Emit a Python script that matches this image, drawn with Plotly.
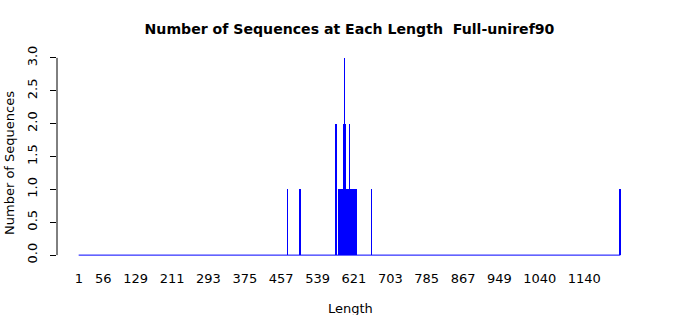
import numpy as np
import plotly.graph_objects as go

# ---- data ----
lengths = [471, 499, 581, 586, 588, 590, 591, 593, 594, 595, 596, 597, 598, 599,
           600, 601, 602, 604, 605, 606, 607, 608, 609, 610, 611, 612, 613, 614,
           615, 617, 618, 619, 620, 622, 626, 661, 1221]
counts = [1, 1, 2, 1, 1, 1, 1, 1, 1, 1, 1, 1, 2, 2,
          3, 2, 2, 1, 1, 1, 1, 1, 1, 1, 2, 1, 1, 1,
          1, 1, 1, 1, 1, 1, 1, 1, 1]
min_length = 1
max_length = 1221
x_tick_labels = [1, 56, 129, 211, 293, 375, 457, 539, 621, 703, 785, 867, 949, 1040, 1140]
y_tick_vals = [0.0, 0.5, 1.0, 1.5, 2.0, 2.5, 3.0]

title = "Number of Sequences at Each Length  Full-uniref90"
x_title = "Length"
y_title = "Number of Sequences"

# ---- geometry (pixels) ----
W, H = 700, 315
L, R, T, B = 57, 58.4, 50, 52
plot_w = W - L - R
plot_h = H - T - B

BLUE = "#0000FF"
FONT = "DejaVu Sans"

span = (max_length + 0.5) - (min_length - 0.5)
xr = [min_length - 0.5 - 0.04 * span, max_length + 0.5 + 0.04 * span]
ymax = max(y_tick_vals)
yr = [-0.04 * ymax, ymax * 1.04]

fig = go.Figure()
# baseline drawn by zero-height bars in original
fig.add_trace(go.Scatter(
    x=[min_length - 0.5, max_length + 0.5], y=[0, 0], mode="lines",
    line=dict(color=BLUE, width=1), hoverinfo="skip"))
fig.add_trace(go.Bar(
    x=lengths, y=counts, width=1,
    marker=dict(color=BLUE, line=dict(width=0))))

fig.update_layout(
    width=W, height=H,
    margin=dict(l=L, r=R, t=T, b=B, pad=0),
    paper_bgcolor="white", plot_bgcolor="white",
    showlegend=False, bargap=0,
    font=dict(family=FONT, size=13, color="black"),
    title=dict(text="<b>" + title + "</b>", x=0.5, xref="paper", xanchor="center",
               y=1 - 29 / H, yref="container", yanchor="middle",
               font=dict(family=FONT, size=14.1, color="black")),
)
fig.update_xaxes(
    range=xr, showline=False, showgrid=False, zeroline=False,
    tickmode="array", tickvals=x_tick_labels, ticktext=[str(v) for v in x_tick_labels],
    ticks="", tickfont=dict(family=FONT, size=13, color="black"),
    ticklabelstandoff=6,
)
fig.update_yaxes(
    range=yr, showline=False, showgrid=False, zeroline=False,
    tickmode="array", tickvals=y_tick_vals, ticktext=["%.1f" % v for v in y_tick_vals],
    ticks="outside", ticklen=6, tickwidth=1, tickcolor="black",
    tickangle=-90, tickfont=dict(family=FONT, size=13, color="black"),
    ticklabelstandoff=8,
)
# y axis line spanning the tick range
fig.add_shape(type="line", xref="paper", yref="y", x0=0, x1=0,
              y0=y_tick_vals[0], y1=y_tick_vals[-1],
              line=dict(color="black", width=1))

fig.add_annotation(text=y_title, xref="paper", yref="paper",
                   x=(9 - L) / plot_w, y=(H - B - 163) / plot_h,
                   xanchor="center", yanchor="middle", textangle=-90,
                   showarrow=False, font=dict(family=FONT, size=13, color="black"))
fig.add_annotation(text=x_title, xref="paper", yref="paper",
                   x=(350 - L) / plot_w, y=(H - B - 308) / plot_h,
                   xanchor="center", yanchor="middle",
                   showarrow=False, font=dict(family=FONT, size=13, color="black"))

fig.write_html("out.html")
